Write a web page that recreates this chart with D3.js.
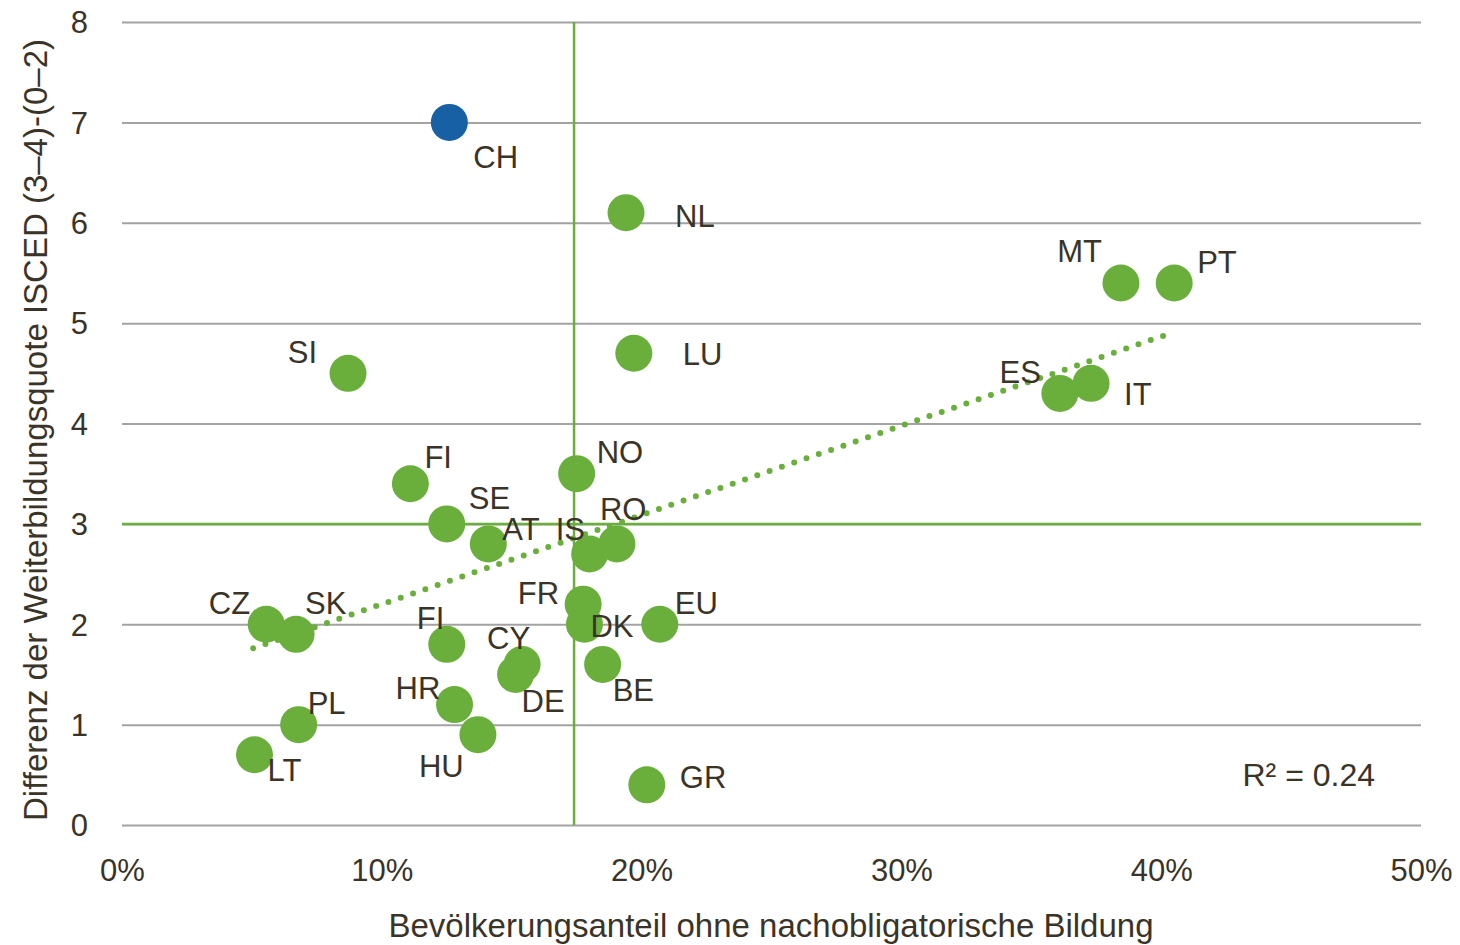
<!DOCTYPE html>
<html><head><meta charset="utf-8">
<script src="https://cdn.jsdelivr.net/npm/d3@7"></script>
<style>
body{margin:0;background:#fff;}
text{font-family:"Liberation Sans",Arial,sans-serif;fill:#3a3428;}
</style></head>
<body><svg id="c" width="1460" height="945"></svg>
<script>
const countries = ["CH","NL","MT","PT","LU","SI","ES","IT","NO","FI","SE","AT","IS","RO","FR","DK","EU","CZ","SK","FI","CY","DE","BE","HR","HU","PL","LT","GR"];
const shareNoPostCompulsory = [12.6,19.4,38.45,40.5,19.7,8.7,36.1,37.3,17.5,11.1,12.5,14.1,18.0,19.05,17.75,17.8,20.7,5.55,6.7,12.5,15.4,15.15,18.5,12.8,13.7,6.8,5.1,20.2];
const rateDifference = [7.0,6.1,5.4,5.4,4.7,4.5,4.3,4.4,3.5,3.4,3.0,2.8,2.7,2.8,2.2,2.0,2.0,2.0,1.9,1.8,1.6,1.5,1.6,1.2,0.9,1.0,0.7,0.4];
const highlight = ["CH"];
const xTicks = [0,10,20,30,40,50];
const yTicks = [0,1,2,3,4,5,6,7,8];
const refX = 17.4, refY = 3;
const trendStart = [5.05,1.76], trendEnd = [40.15,4.88];
const r2Label = "R² = 0.24";

// label placement (layout only)
const labelOffsets = [
 [24,35,"start"],[49,3,"start"],[-19,-32,"end"],[23,-21,"start"],[49,1,"start"],[-31,-21,"end"],
 [-19,-21,"end"],[33,11,"start"],[20,-22,"start"],[14,-27,"start"],[22,-26,"start"],[14,-15,"start"],
 [-34,-25,"start"],[-17,-35,"start"],[-24,-11,"end"],[6,2,"start"],[15,-21,"start"],[-16,-21,"end"],
 [9,-31,"start"],[-30,-26,"start"],[-35,-26,"start"],[6,27,"start"],[10,26,"start"],[-59,-16,"start"],
 [-59,31,"start"],[9,-21,"start"],[13,15,"start"],[33,-8,"start"]
];

const green="#6aaf3c", blue="#1660a3", grid="#a3a3a3";
const svg=d3.select("#c");
const x=d3.scaleLinear().domain([0,50]).range([122,1421]);
const y=d3.scaleLinear().domain([0,8]).range([825,22]);

// grid
const yAxis=d3.axisLeft(y).tickValues(yTicks).tickSize(-(1421-122)).tickFormat(d3.format("d")).tickPadding(34);
const gy=svg.append("g").attr("transform","translate(122,0)").call(yAxis);
gy.select(".domain").remove();
gy.selectAll(".tick line").attr("stroke",grid).attr("stroke-width",2);
gy.selectAll(".tick text").style("font-size","31px").attr("dy","0.35em");

const xAxis=d3.axisBottom(x).tickValues(xTicks).tickSize(0).tickFormat(d=>d+"%").tickPadding(45);
const gx=svg.append("g").attr("transform","translate(0,825)").call(xAxis);
gx.select(".domain").remove();
gx.selectAll(".tick text").style("font-size","31px").attr("dy","0.35em");

// reference lines
svg.append("line").attr("x1",x(refX)).attr("x2",x(refX)).attr("y1",y(8)).attr("y2",y(0)).attr("stroke",green).attr("stroke-width",2.5);
svg.append("line").attr("x1",x(0)).attr("x2",x(50)).attr("y1",y(refY)).attr("y2",y(refY)).attr("stroke",green).attr("stroke-width",2.5);

// trend line dotted
svg.append("line").attr("x1",x(trendStart[0])).attr("y1",y(trendStart[1])).attr("x2",x(trendEnd[0])).attr("y2",y(trendEnd[1]))
 .attr("stroke",green).attr("stroke-width",6).attr("stroke-linecap","round").attr("stroke-dasharray","0 13");

// points
const data=countries.map((c,i)=>({c,x:shareNoPostCompulsory[i],y:rateDifference[i],o:labelOffsets[i]}));
svg.append("g").selectAll("circle").data(data).join("circle")
 .attr("cx",d=>x(d.x)).attr("cy",d=>y(d.y)).attr("r",18.5)
 .attr("fill",d=>highlight.includes(d.c)?blue:green);
svg.append("g").selectAll("text").data(data).join("text")
 .attr("x",d=>x(d.x)+d.o[0]).attr("y",d=>y(d.y)+d.o[1]).attr("dy","0.35em")
 .attr("text-anchor",d=>d.o[2]).style("font-size","31px").text(d=>d.c);

svg.append("text").attr("x",1375).attr("y",775).attr("dy","0.35em").attr("text-anchor","end").style("font-size","32px").text(r2Label);

svg.append("text").attr("x",771).attr("y",925).attr("dy","0.35em").attr("text-anchor","middle").style("font-size","33px")
 .text("Bevölkerungsanteil ohne nachobligatorische Bildung");
svg.append("text").attr("transform","translate(35,430) rotate(-90)").attr("dy","0.35em").attr("text-anchor","middle").style("font-size","33px")
 .text("Differenz der Weiterbildungsquote ISCED (3–4)-(0–2)");
</script></body></html>
